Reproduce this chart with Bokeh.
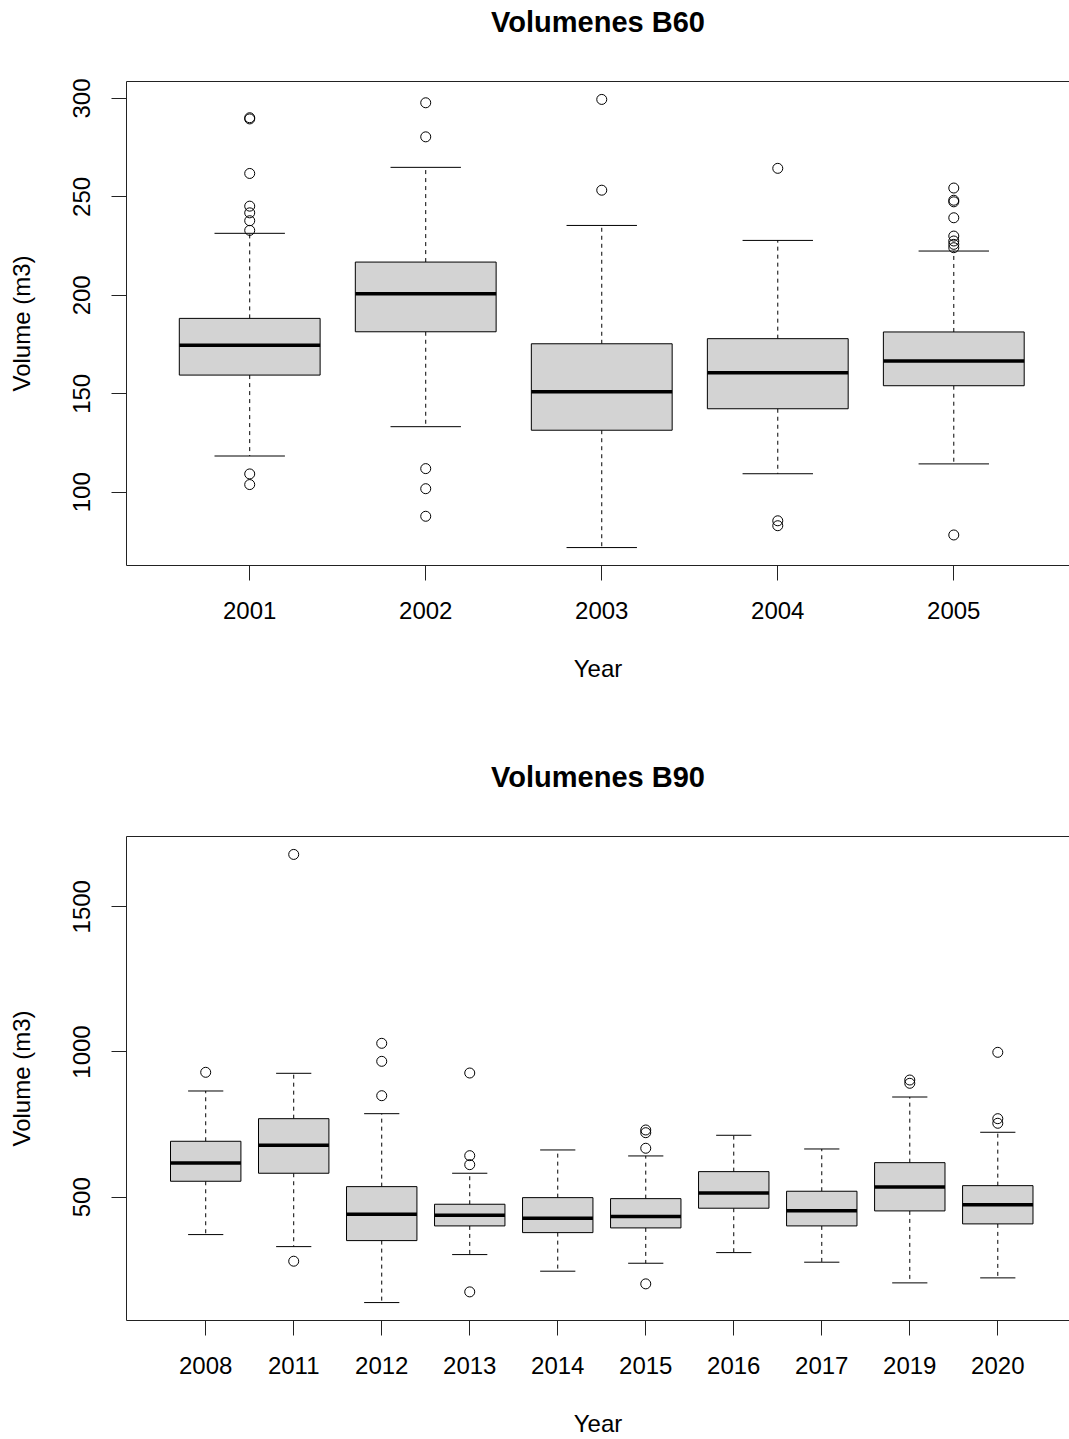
from bokeh.plotting import figure
from bokeh.models import FixedTicker, Range1d, LinearAxis, ColumnDataSource
from bokeh.layouts import column
from bokeh.embed import file_html
from bokeh.resources import INLINE

# ---------------- data: Volumenes B60 ----------------
b60_years = ["2001", "2002", "2003", "2004", "2005"]
b60_q1 = [159.5, 181.5, 131.5, 142.4, 154.1]
b60_med = [174.6, 200.8, 151.1, 160.7, 166.6]
b60_q3 = [188.3, 216.9, 175.4, 178.0, 181.4]
b60_lo = [118.4, 133.3, 71.9, 109.4, 114.4]
b60_hi = [231.5, 265.0, 235.5, 227.9, 222.5]
b60_out = [
    [289.6, 290.2, 261.9, 245.3, 241.9, 237.9, 233.0, 109.3, 103.9],
    [297.8, 280.5, 112.0, 101.8, 87.8],
    [299.5, 253.4],
    [264.5, 85.5, 83.0],
    [254.5, 248.3, 247.5, 239.4, 230.1, 227.6, 225.9, 224.2, 78.3],
]
b60_yticks = [100, 150, 200, 250, 300]

# ---------------- data: Volumenes B90 ----------------
b90_years = ["2008", "2011", "2012", "2013", "2014", "2015", "2016", "2017", "2019", "2020"]
b90_q1 = [555.0, 582.6, 350.7, 401.3, 378.2, 394.4, 462.2, 401.3, 452.9, 408.2]
b90_med = [618.0, 678.9, 441.5, 438.0, 427.8, 433.3, 514.8, 453.9, 535.4, 474.5]
b90_q3 = [692.6, 770.4, 536.5, 475.9, 498.6, 495.2, 588.1, 520.6, 619.0, 539.9]
b90_lo = [371.4, 330.0, 137.4, 302.6, 245.4, 272.8, 309.4, 276.4, 205.2, 222.4]
b90_hi = [865.7, 926.6, 787.6, 582.6, 662.7, 642.1, 713.3, 666.1, 845.0, 723.6]
b90_out = [
    [930.0],
    [1680.0, 279.8],
    [1029.8, 967.8, 849.5],
    [927.6, 643.1, 612.1, 174.2],
    [],
    [731.5, 722.2, 668.6, 201.8],
    [],
    [],
    [903.5, 892.2],
    [998.8, 770.4, 754.6],
]
b90_yticks = [500, 1000, 1500]

FONT = "Liberation Sans"
W = 1069
LEFT = 126
FULL_PX = 950.5      # width the full R plot region would need


def make_box(title, years, q1, med, q3, lo, hi, outs, yticks,
             height, border_top, border_bottom, xlabel_standoff):
    n = len(years)
    xs = list(range(1, n + 1))
    flat = [v for o in outs for v in o]
    ymin = min(lo + flat)
    ymax = max(hi + flat)
    ext = 0.04 * (ymax - ymin)
    y0, y1 = ymin - ext, ymax + ext
    x_start = 0.5 - 0.04 * n
    full_span = 1.08 * n
    frame_w = W - LEFT
    x_end = x_start + full_span * frame_w / FULL_PX

    p = figure(width=W, height=height, output_backend="svg", toolbar_location=None,
               x_range=Range1d(x_start, x_end), y_range=Range1d(y0, y1),
               min_border_left=LEFT, min_border_right=0,
               min_border_top=border_top, min_border_bottom=border_bottom)
    p.outline_line_color = None
    p.xgrid.visible = False
    p.ygrid.visible = False
    p.background_fill_color = "white"
    p.border_fill_color = "white"

    bw = 0.8
    src = ColumnDataSource(dict(
        x=xs, q1=q1, med=med, q3=q3, lo=lo, hi=hi,
        left=[x - bw / 2 for x in xs], right=[x + bw / 2 for x in xs],
        cl=[x - bw / 4 for x in xs], cr=[x + bw / 4 for x in xs],
    ))
    # whiskers (dashed)
    p.segment(x0="x", y0="q3", x1="x", y1="hi", source=src, line_color="black",
              line_width=1, line_dash="4 4")
    p.segment(x0="x", y0="q1", x1="x", y1="lo", source=src, line_color="black",
              line_width=1, line_dash="4 4")
    # caps
    p.segment(x0="cl", y0="hi", x1="cr", y1="hi", source=src, line_color="black", line_width=1)
    p.segment(x0="cl", y0="lo", x1="cr", y1="lo", source=src, line_color="black", line_width=1)
    # boxes
    p.vbar(x="x", width=bw, top="q3", bottom="q1", source=src,
           fill_color="#D3D3D3", line_color="black", line_width=1)
    # medians
    p.segment(x0="left", y0="med", x1="right", y1="med", source=src,
              line_color="black", line_width=3.5)
    # outliers
    ox = [x for x, o in zip(xs, outs) for _ in o]
    p.scatter(ox, flat, marker="circle", size=10, fill_color=None,
              line_color="black", line_width=1)

    # x axis
    xa = p.xaxis[0]
    xa.ticker = FixedTicker(ticks=xs)
    xa.major_label_overrides = {x: y for x, y in zip(xs, years)}
    xa.axis_label = "Year"
    xa.axis_label_standoff = xlabel_standoff
    # y axis
    ya = p.yaxis[0]
    ya.ticker = FixedTicker(ticks=yticks)
    ya.major_label_orientation = "vertical"
    ya.axis_label = "Volume (m3)"
    ya.axis_label_standoff = 36
    for ax in (xa, ya):
        ax.axis_line_color = "#222222"
        ax.major_tick_line_color = "#222222"
        ax.major_tick_out = 15
        ax.major_tick_in = 0
        ax.minor_tick_line_color = None
        ax.major_label_text_font = FONT
        ax.major_label_text_font_size = "24px"
        ax.major_label_text_color = "black"
        ax.axis_label_text_font = FONT
        ax.axis_label_text_font_size = "24px"
        ax.axis_label_text_font_style = "normal"
        ax.axis_label_text_color = "black"
    xa.major_label_standoff = 21
    ya.major_label_standoff = 21

    # top border line, carrying the chart title
    top = LinearAxis(ticker=FixedTicker(ticks=[]), axis_line_color="#222222",
                     major_tick_line_color=None, minor_tick_line_color=None,
                     major_label_text_font_size="0px", major_tick_out=0, major_tick_in=0,
                     axis_label=title, axis_label_text_font=FONT,
                     axis_label_text_font_size="29px", axis_label_text_font_style="bold",
                     axis_label_text_color="black", axis_label_standoff=44)
    p.add_layout(top, "above")
    return p


p1 = make_box("Volumenes B60", b60_years, b60_q1, b60_med, b60_q3, b60_lo, b60_hi,
              b60_out, b60_yticks, height=700, border_top=81, border_bottom=135,
              xlabel_standoff=33)
p2 = make_box("Volumenes B90", b90_years, b90_q1, b90_med, b90_q3, b90_lo, b90_hi,
              b90_out, b90_yticks, height=739, border_top=136, border_bottom=119,
              xlabel_standoff=33)

layout = column(p1, p2, spacing=0)
open("out.html", "w").write(file_html(layout, INLINE))
